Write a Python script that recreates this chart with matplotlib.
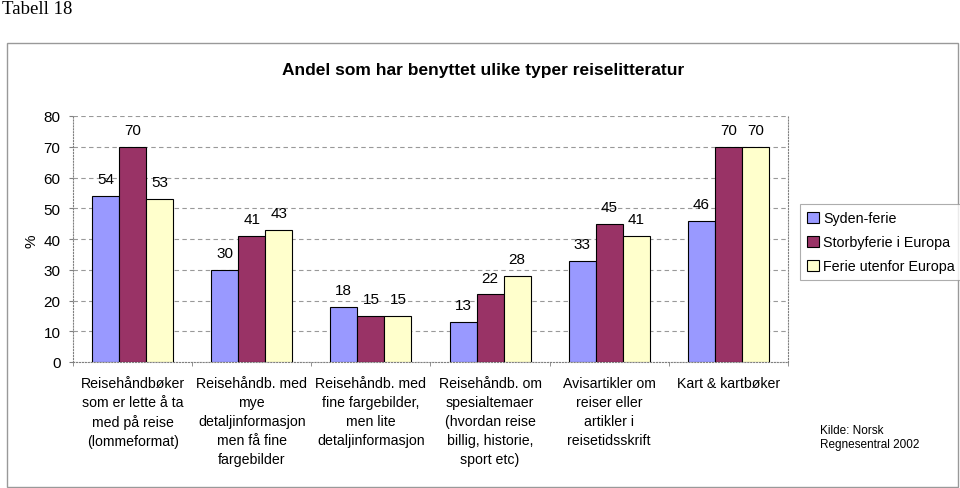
import numpy as np
import matplotlib.pyplot as plt
from matplotlib.patches import Rectangle

categories = [
    "Reisehåndbøker\nsom er lette å ta\nmed på reise\n(lommeformat)",
    "Reisehåndb. med\nmye\ndetaljinformasjon\nmen få fine\nfargebilder",
    "Reisehåndb. med\nfine fargebilder,\nmen lite\ndetaljinformasjon",
    "Reisehåndb. om\nspesialtemaer\n(hvordan reise\nbillig, historie,\nsport etc)",
    "Avisartikler om\nreiser eller\nartikler i\nreisetidsskrift",
    "Kart & kartbøker",
]
syden = [54, 30, 18, 13, 33, 46]
storby = [70, 41, 15, 22, 45, 70]
utenfor = [53, 43, 15, 28, 41, 70]
series_names = ["Syden-ferie", "Storbyferie i Europa", "Ferie utenfor Europa"]
colors = ["#9999FF", "#993366", "#FFFFCC"]

plt.rcParams['font.family'] = ['Liberation Sans', 'DejaVu Sans']

fig = plt.figure(figsize=(9.6, 4.89), dpi=100)
ax = fig.add_axes([73 / 960, 1 - 363 / 489, 715 / 960, 246 / 489])

# outer frame around chart
fig.patches.append(Rectangle((7 / 960, 1 / 489), 951 / 960, 444 / 489,
                             transform=fig.transFigure, fill=False,
                             edgecolor="#999999", linewidth=1))

x = np.arange(len(categories))
w = 0.227
for i, (vals, name, c) in enumerate(zip([syden, storby, utenfor], series_names, colors)):
    pos = x + (i - 1) * w
    ax.bar(pos, vals, width=w, color=c, edgecolor="black", linewidth=0.8,
           label=name, zorder=3)
    for p, v in zip(pos, vals):
        ax.text(p, v + 3.2, str(v), ha="center", va="bottom", fontsize=11)

ax.set_xlim(-0.5, len(categories) - 0.5)
ax.set_ylim(0, 80)
ax.set_yticks(range(0, 81, 10))
ax.tick_params(axis="y", labelsize=11, length=3, color="#808080", pad=6)
ax.set_xticks(x)
ax.set_xticklabels(categories, fontsize=10.2, linespacing=1.45, va="top")
ax.tick_params(axis="x", length=0, pad=10)
ax.set_xticks(np.arange(-0.5, len(categories)), minor=True)
ax.tick_params(axis="x", which="minor", length=3, color="#808080")

ax.grid(axis="y", linestyle=(0, (4, 3)), color="#999999", linewidth=0.8, zorder=0)
for s in ["left", "bottom", "right"]:
    ax.spines[s].set_linestyle(":")
    ax.spines[s].set_color("#808080")
ax.spines["top"].set_visible(False)

fig.text(32 / 960, 1 - 241 / 489, "%", ha="center", va="center", fontsize=11,
         rotation=90)

fig.text(483 / 960, 1 - 70 / 489, "Andel som har benyttet ulike typer reiselitteratur",
         ha="center", va="center", fontsize=12.5, fontweight="bold")
fig.text(2 / 960, 1 - 1 / 489, "Tabell 18", ha="left", va="top",
         fontsize=13.5, family=["Liberation Serif"])
fig.text(820 / 960, 1 - 438 / 489, "Kilde: Norsk\nRegnesentral 2002", ha="left",
         va="center", fontsize=8.5, linespacing=1.3)

leg = fig.legend(loc="upper left", bbox_to_anchor=(800 / 960, 1 - 205 / 489),
                 fontsize=10.3, frameon=True, fancybox=False, edgecolor="#999999",
                 handlelength=0.8, handleheight=0.8, handletextpad=0.3,
                 labelspacing=0.7, borderpad=0.5, borderaxespad=0)
leg.get_frame().set_linewidth(0.8)

fig.savefig("out.png", dpi=100)
